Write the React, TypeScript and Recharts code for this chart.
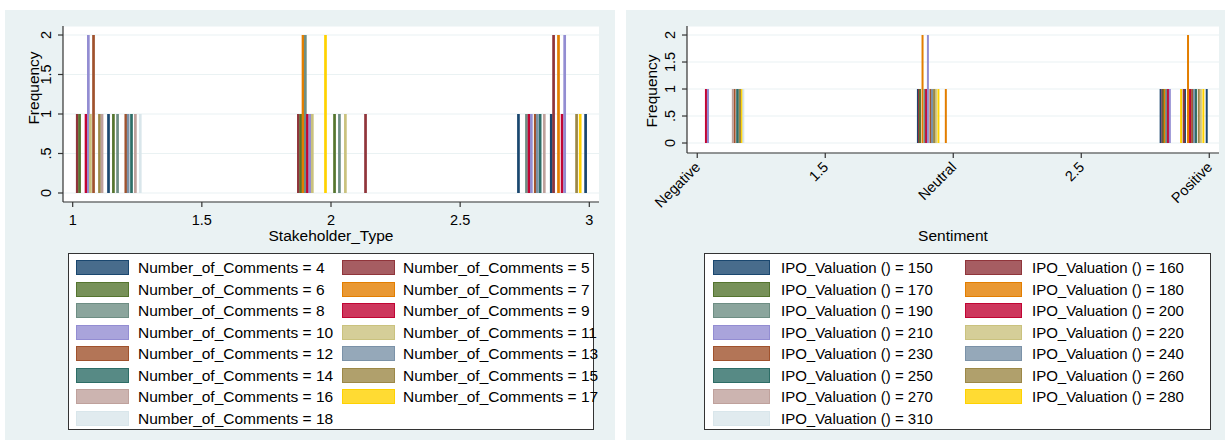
import React from 'react';
import { BarChart, Bar, XAxis, YAxis, CartesianGrid, Label } from 'recharts';

// legend levels
const commentLevels = ['4', '5', '6', '7', '8', '9', '10', '11', '12', '13', '14', '15', '16', '17', '18'];
const valuationLevels = ['150', '160', '170', '180', '190', '200', '210', '220', '230', '240', '250', '260', '270', '280', '310'];

// Stata s2color order
const palette = [
  '#1a476f', '#90353b', '#55752f', '#e37e00', '#6e8e84',
  '#c10534', '#938dd2', '#cac27e', '#a0522d', '#7b92a8',
  '#2d6d66', '#9c8847', '#bfa19c', '#ffd200', '#d9e6eb',
];

// left: bars of Stakeholder_Type, grouped by Number_of_Comments
const stakeX = [
  1.017, 1.026, 1.051, 1.06, 1.068, 1.08, 1.103, 1.113, 1.138, 1.157, 1.173, 1.205, 1.214, 1.227, 1.242, 1.261,
  1.873, 1.882, 1.891, 1.9, 1.908, 1.917, 1.927, 1.978, 2.013, 2.032, 2.055, 2.133,
  2.725, 2.756, 2.766, 2.775, 2.79, 2.798, 2.809, 2.825, 2.852, 2.861, 2.88, 2.894, 2.904, 2.95, 2.964, 2.985,
];
const stakeFreq = [
  1, 1, 1, 2, 1, 2, 1, 1, 1, 1, 1, 1, 1, 1, 1, 1,
  1, 1, 2, 2, 1, 1, 1, 2, 1, 1, 1, 1,
  1, 1, 1, 1, 1, 1, 1, 1, 1, 2, 2, 1, 2, 1, 1, 1,
];
const stakeGroup = [
  1, 2, 5, 6, 7, 8, 11, 12, 0, 2, 4, 8, 9, 10, 12, 14,
  1, 2, 3, 4, 5, 6, 7, 13, 2, 4, 7, 1,
  0, 4, 5, 6, 8, 9, 10, 12, 0, 1, 3, 5, 6, 11, 13, 0,
];

// right: bars of Sentiment, grouped by IPO_Valuation
const sentX = [
  1.034, 1.042, 1.139, 1.146, 1.156, 1.161, 1.167, 1.175, 1.18,
  1.862, 1.866, 1.87, 1.88, 1.888, 1.894, 1.901, 1.911, 1.917, 1.925, 1.932, 1.942, 1.971,
  2.81, 2.817, 2.821, 2.826, 2.832, 2.839, 2.846,
  2.89, 2.9, 2.905, 2.917, 2.925, 2.933, 2.94, 2.948, 2.959, 2.967, 2.977, 2.99,
];
const sentFreq = [
  1, 1, 1, 1, 1, 1, 1, 1, 1,
  1, 1, 1, 2, 1, 1, 2, 1, 1, 1, 1, 1, 1,
  1, 1, 1, 1, 1, 1, 1,
  1, 1, 1, 2, 1, 1, 1, 1, 1, 1, 1, 1,
];
const sentGroup = [
  5, 6, 12, 8, 10, 4, 11, 13, 14,
  0, 1, 2, 3, 4, 5, 6, 8, 9, 11, 7, 13, 3,
  0, 1, 2, 3, 4, 5, 6,
  13, 1, 0, 3, 5, 8, 9, 10, 11, 7, 13, 0,
];

const freqTicks = [0, 0.5, 1, 1.5, 2];
const freqTickLabels = ['0', '.5', '1', '1.5', '2'];
const xTicks = [1, 1.5, 2, 2.5, 3];
const stakeTickLabels = ['1', '1.5', '2', '2.5', '3'];
const sentTickLabels = ['Negative', '1.5', 'Neutral', '2.5', 'Positive'];

const FONT = '"Liberation Sans", Arial, Helvetica, sans-serif';
const AXIS = '#333';
const BG = '#eaf2f3';
const TICK_FS = 14.5;
const TITLE_FS = 15.5;

const toRows = (xs: number[], hs: number[], gs: number[]) =>
  xs.map((x, i) => ({ x, freq: hs[i], g: gs[i] })).sort((a, b) => a.g - b.g);

const thinBar = (w: number) => (props: any) => {
  const { x, y, width, height, payload } = props;
  if (!height) return <g />;
  const cx = x + width / 2;
  return <rect x={cx - w / 2} y={y} width={w} height={height} fill={palette[payload.g]} />;
};

const yTick = (props: any) => {
  const { x, y, payload } = props;
  const i = freqTicks.indexOf(payload.value);
  return (
    <text transform={`translate(${x - 10},${y}) rotate(-90)`} textAnchor="middle" dy="0.35em"
      fontSize={TICK_FS} fontFamily={FONT} fill="#000">
      {freqTickLabels[i]}
    </text>
  );
};

const flatXTick = (props: any) => {
  const { x, y, payload } = props;
  const i = xTicks.indexOf(payload.value);
  return (
    <text x={x} y={y + 16} textAnchor="middle" fontSize={TICK_FS} fontFamily={FONT} fill="#000">
      {stakeTickLabels[i]}
    </text>
  );
};

const slantXTick = (props: any) => {
  const { x, y, payload } = props;
  const i = xTicks.indexOf(payload.value);
  return (
    <text transform={`translate(${x + 4},${y + 8}) rotate(-45)`} textAnchor="end" fontSize={TICK_FS}
      fontFamily={FONT} fill="#000">
      {sentTickLabels[i]}
    </text>
  );
};

interface PanelProps {
  rows: { x: number; freq: number; g: number }[];
  yDomain: [number, number];
  xDomain: [number, number];
  margin: { top: number; right: number; bottom: number; left: number };
  xHeight: number;
  tick: (p: any) => React.ReactElement;
  xTitle: string;
  xTitleOffset: number;
  yTitlePos: [number, number];
  barW: number;
}

const Panel = ({ rows, yDomain, xDomain, margin, xHeight, tick, xTitle, xTitleOffset, yTitlePos, barW }: PanelProps) => (
  <BarChart width={615} height={250} data={rows} margin={margin}>
    <CartesianGrid vertical={false} fill="#fff" stroke={BG} strokeWidth={1.2} />
    <XAxis dataKey="x" type="number" domain={xDomain} ticks={xTicks} allowDataOverflow
      height={xHeight} tickSize={5} tickMargin={2} tick={tick}
      axisLine={{ stroke: AXIS, strokeWidth: 1.2 }} tickLine={{ stroke: AXIS, strokeWidth: 1.2 }}>
      <Label value={xTitle} position="bottom" offset={xTitleOffset} fontSize={TITLE_FS} fontFamily={FONT} fill="#000" />
    </XAxis>
    <YAxis type="number" domain={yDomain} ticks={freqTicks} allowDataOverflow width={40}
      tickSize={5} tickMargin={2} tick={yTick}
      axisLine={{ stroke: AXIS, strokeWidth: 1.2 }} tickLine={{ stroke: AXIS, strokeWidth: 1.2 }}>
      <Label content={() => (
        <text transform={`translate(${yTitlePos[0]},${yTitlePos[1]}) rotate(-90)`} textAnchor="middle"
          dy="0.35em" fontSize={TITLE_FS} fontFamily={FONT} fill="#000">Frequency</text>
      )} />
    </YAxis>
    <Bar dataKey="freq" isAnimationActive={false} shape={thinBar(barW)} />
  </BarChart>
);

const hexA = (hex: string, a: number) => {
  const n = parseInt(hex.slice(1), 16);
  return `rgba(${(n >> 16) & 255},${(n >> 8) & 255},${n & 255},${a})`;
};

interface LegendProps {
  left: number; width: number; prefix: string; levels: string[]; fs: number;
  swW: number; sw1: number; tx1: number; sw2: number; tx2: number;
}

const LegendBox = ({ left, width, prefix, levels, fs, swW, sw1, tx1, sw2, tx2 }: LegendProps) => (
  <div style={{ position: 'absolute', left, top: 253, width, height: 177, border: `1px solid ${AXIS}`,
    background: '#fff', boxSizing: 'border-box', fontFamily: FONT, fontSize: fs, color: '#000' }}>
    {levels.map((lv, i) => {
      const col = i % 2;
      const row = Math.floor(i / 2);
      const cy = 13.5 + row * 21.5;
      return (
        <React.Fragment key={lv}>
          <div style={{ position: 'absolute', left: col ? sw2 : sw1, top: cy - 7.5, width: swW, height: 15,
            boxSizing: 'border-box', background: hexA(palette[i], 0.8), border: `1px solid ${palette[i]}` }} />
          <div style={{ position: 'absolute', left: col ? tx2 : tx1, top: cy - 9.5, lineHeight: '19px',
            whiteSpace: 'nowrap' }}>{`${prefix} = ${lv}`}</div>
        </React.Fragment>
      );
    })}
  </div>
);

export default function App() {
  const stakeRows = toRows(stakeX, stakeFreq, stakeGroup);
  const sentRows = toRows(sentX, sentFreq, sentGroup);
  return (
    <div style={{ position: 'relative', width: 1230, height: 446, background: '#fff', overflow: 'hidden' }}>
      <style>{'body{margin:0}'}</style>
      <div style={{ position: 'absolute', left: 5, top: 10, width: 610, height: 430, background: BG }} />
      <div style={{ position: 'absolute', left: 626, top: 10, width: 599, height: 430, background: BG }} />
      <div style={{ position: 'absolute', left: 0, top: 0 }}>
        <Panel rows={stakeRows} yDomain={[-0.114, 2.114]} xDomain={[0.9625, 3.0375]}
          margin={{ top: 26, right: 16, bottom: 18, left: 23 }} xHeight={30} tick={flatXTick}
          xTitle="Stakeholder_Type" xTitleOffset={-2} yTitlePos={[34, 88]} barW={2.7} />
      </div>
      <div style={{ position: 'absolute', left: 615, top: 0 }}>
        <Panel rows={sentRows} yDomain={[-0.185, 2.167]} xDomain={[0.96, 3.038]}
          margin={{ top: 26, right: 11, bottom: 37, left: 32 }} xHeight={60} tick={slantXTick}
          xTitle="Sentiment" xTitleOffset={17} yTitlePos={[37, 91]} barW={2} />
      </div>
      <LegendBox left={68} width={526} prefix="Number_of_Comments" levels={commentLevels} fs={15.5}
        swW={53} sw1={7} tx1={69} sw2={273} tx2={334} />
      <LegendBox left={704} width={507} prefix="IPO_Valuation ()" levels={valuationLevels} fs={15}
        swW={57} sw1={8} tx1={76} sw2={260} tx2={327} />
    </div>
  );
}
